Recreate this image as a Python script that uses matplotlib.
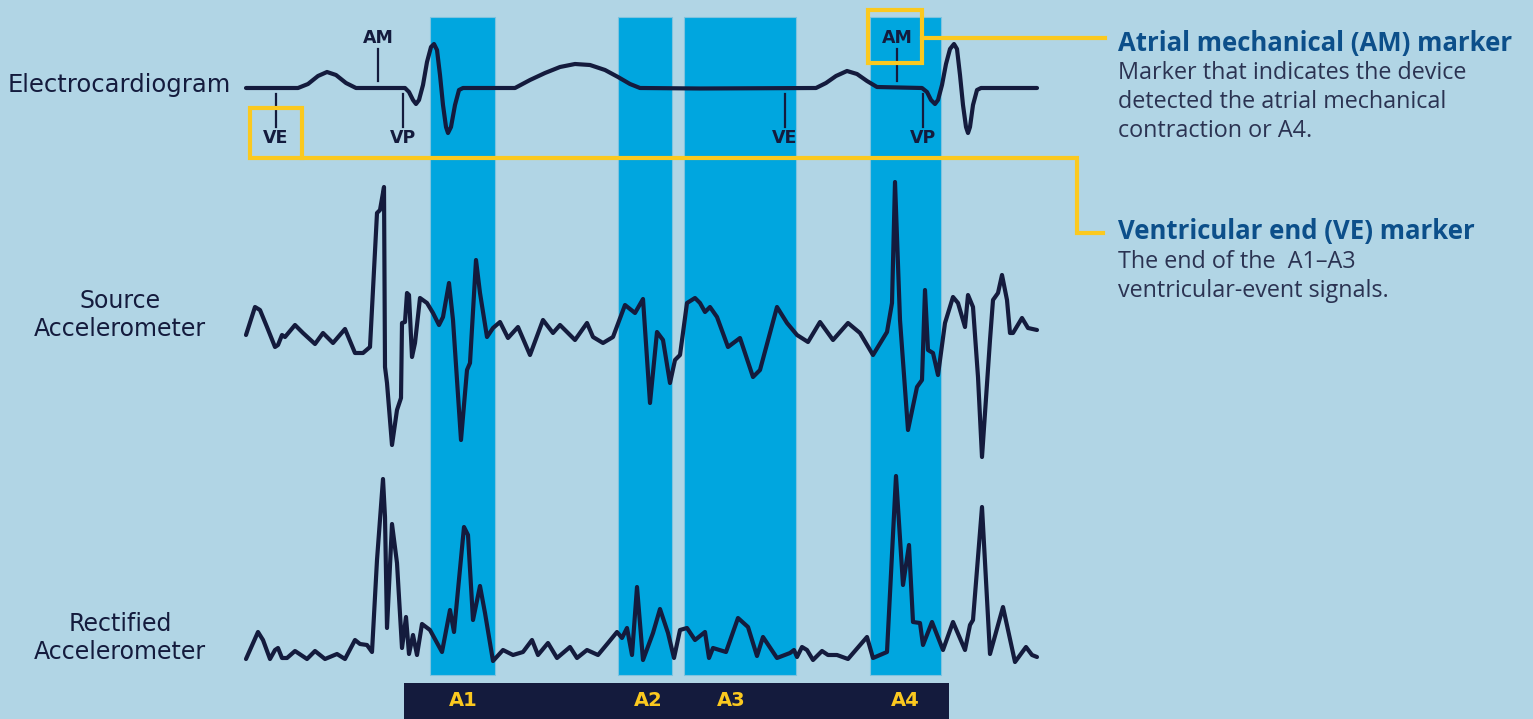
import matplotlib
matplotlib.use("Agg")
import matplotlib.pyplot as plt
from matplotlib.patches import Rectangle

# colours
bg = "#b1d5e5"
band_col = "#00a6df"
navy = "#141b3d"
yellow = "#fbc91f"
head_col = "#0c4f8a"

# event windows (time units = pixels along the strip)
event_names = ["A1", "A2", "A3", "A4"]
event_start = [430, 618, 684, 870]
event_end = [495, 672, 796, 941]
event_label_x = [463, 648, 731, 905]

# electrocardiogram: time / amplitude above baseline
ecg_t = [246, 298, 308, 318, 327, 336, 346, 356, 405, 409, 413, 416, 419, 423, 427, 431,
         434, 437, 440, 443, 446, 448, 451, 455, 459, 463, 515, 530, 545, 560, 575, 590,
         605, 618, 630, 640, 700, 816, 826, 836, 847, 857, 867, 877, 922, 927, 931, 935,
         938, 942, 946, 950, 954, 957, 960, 963, 966, 968, 970, 973, 977, 981, 1037]
ecg_v = [0, 0, 4, 12, 16, 13, 5, 0, 0, -4, -12, -16, -12, 3, 26, 41,
         44, 38, 13, -17, -39, -45, -39, -17, -2, 0, 0, 8, 15, 21, 24, 23,
         18, 11, 4, 0, -0.5, 0, 5, 12, 17, 14, 7, 1, 0, -4, -12, -16,
         -12, 3, 24, 39, 44, 39, 13, -17, -39, -45, -39, -17, -2, 0, 0]

# markers on the ECG strip
mark_names = ["VE", "AM", "VP", "VE", "AM", "VP"]
mark_t = [276, 378, 403, 785, 897, 923]
mark_up = [False, True, False, False, True, False]

# source accelerometer
src_t = [246, 255, 260, 267, 275, 278, 282, 285, 295, 303, 315, 323, 333, 345, 355, 363,
         370, 377, 380, 384, 385, 387, 392, 397, 401, 402, 405, 407, 409, 412, 415, 420,
         427, 433, 439, 443, 449, 453, 461, 467, 470, 476, 480, 487, 493, 500, 508, 518,
         530, 543, 553, 560, 575, 587, 593, 603, 613, 625, 635, 643, 650, 657, 663, 670,
         675, 680, 687, 695, 700, 705, 710, 717, 728, 740, 753, 760, 777, 787, 797, 808,
         820, 833, 848, 860, 873, 887, 892, 895, 900, 908, 917, 922, 925, 928, 933, 938,
         945, 953, 958, 965, 968, 973, 978, 982, 990, 993, 998, 1002, 1007, 1010, 1013, 1022,
         1028, 1037]
src_v = [-5, 23, 20, 3, -17, -15, -5, -7, 5, -3, -14, -3, -13, 1, -23, -23,
         -17, 117, 120, 143, -37, -53, -115, -80, -68, 7, 8, 37, 35, -27, -13, 32,
         27, 17, 5, 13, 47, 10, -110, -40, -33, 70, 37, -7, 2, 8, -8, 3,
         -25, 10, -3, 5, -10, 7, -7, -13, -7, 25, 17, 31, -73, -2, -10, -53,
         -30, -25, 27, 32, 27, 18, 23, 13, -17, -8, -47, -40, 23, 7, -5, -12,
         8, -10, 7, -3, -25, -2, 27, 148, 10, -100, -57, -50, 40, -20, -23, -45,
         7, 33, 27, 3, 35, 23, -47, -127, -10, 30, 37, 55, 30, -3, -3, 12,
         2, 0]

# rectified accelerometer
rec_t = [246, 258, 263, 270, 275, 278, 282, 287, 295, 307, 315, 325, 337, 345, 355, 360,
         367, 372, 377, 383, 385, 387, 392, 397, 402, 406, 409, 413, 417, 422, 430, 442,
         450, 454, 464, 468, 473, 480, 485, 493, 503, 513, 523, 532, 538, 548, 557, 570,
         577, 587, 598, 608, 617, 622, 627, 632, 637, 643, 653, 660, 668, 674, 680, 687,
         695, 705, 709, 713, 726, 738, 748, 757, 763, 777, 790, 794, 797, 802, 807, 813,
         822, 828, 837, 848, 867, 873, 887, 896, 903, 909, 913, 920, 923, 932, 943, 953,
         965, 970, 973, 982, 990, 1003, 1015, 1026, 1032, 1037]
rec_v = [0, 27, 19, 0, 9, 11, 1, 1, 8, 0, 8, 0, 5, 0, 19, 15,
         14, 7, 99, 180, 142, 31, 135, 96, 11, 42, 5, 24, 4, 35, 29, 7,
         49, 27, 132, 124, 39, 73, 46, -2, 9, 4, 7, 19, 4, 16, 1, 12,
         1, 9, 4, 16, 27, 21, 31, 4, 72, -1, 26, 50, 26, 1, 29, 31,
         19, 27, 1, 11, 7, 41, 32, 3, 22, 1, 6, 9, 2, 12, 9, -1,
         8, 4, 4, 0, 22, 1, 7, 183, 74, 114, 37, 36, 14, 37, 9, 37,
         9, 34, 39, 152, 5, 52, -3, 12, 4, 2]

# text
row_labels = ["Electrocardiogram", "Source\nAccelerometer", "Rectified\nAccelerometer"]
am_head = "Atrial mechanical (AM) marker"
am_body = ["Marker that indicates the device", "detected the atrial mechanical",
           "contraction or A4."]
ve_head = "Ventricular end (VE) marker"
ve_body = ["The end of the  A1\u2013A3", "ventricular-event signals."]

plt.rcParams["font.family"] = ["DejaVu Sans"]

fig = plt.figure(figsize=(15.33, 7.19), dpi=100, facecolor=bg)
ax = fig.add_axes([0, 0, 1, 1])
ax.set_xlim(0, 1533)
ax.set_ylim(719, 0)
ax.axis("off")
ax.set_facecolor(bg)

# highlighted event windows
for s, e in zip(event_start, event_end):
    ax.add_patch(Rectangle((s, 17), e - s, 658, facecolor=band_col,
                           edgecolor="#7fc3df", lw=0.8, zorder=1))

# event bar at the bottom
ax.add_patch(Rectangle((404, 683), 545, 40, facecolor=navy, edgecolor="none", zorder=2))
for name, x in zip(event_names, event_label_x):
    ax.text(x, 701, name, color=yellow, fontsize=14, fontweight="bold",
            ha="center", va="center", zorder=3)

# traces
ecg_base, src_base, rec_base = 88, 330, 659
kw = dict(color=navy, lw=3, solid_joinstyle="round", solid_capstyle="round", zorder=4)
ax.plot(ecg_t, [ecg_base - v for v in ecg_v], **kw)
ax.plot(src_t, [src_base - v for v in src_v], **kw)
ax.plot(rec_t, [rec_base - v for v in rec_v], **kw)

# ECG markers
for name, x, up in zip(mark_names, mark_t, mark_up):
    if up:
        ax.plot([x, x], [49, 81], color=navy, lw=1.6, zorder=4)
        ax.text(x, 38, name, fontsize=12.5, fontweight="bold", color=navy,
                ha="center", va="center", zorder=5)
    else:
        ax.plot([x, x], [94, 127], color=navy, lw=1.6, zorder=4)
        ax.text(x, 138, name, fontsize=12.5, fontweight="bold", color=navy,
                ha="center", va="center", zorder=5)

# yellow callouts
ylw = dict(color=yellow, lw=3, zorder=6, solid_joinstyle="miter")
ax.add_patch(Rectangle((868, 10), 54, 53, facecolor="none", edgecolor=yellow, lw=3, zorder=6))
ax.plot([922, 1105], [38, 38], **ylw)
ax.add_patch(Rectangle((250, 108), 52, 50, facecolor="none", edgecolor=yellow, lw=3, zorder=6))
ax.plot([302, 1077, 1077, 1103], [158, 158, 233, 233], **ylw)

# row labels
ax.text(231, 85, row_labels[0], fontsize=17.5, color=navy, ha="right", va="center")
ax.text(120, 315, row_labels[1], fontsize=17, color=navy, ha="center", va="center",
        linespacing=1.2)
ax.text(120, 638, row_labels[2], fontsize=17, color=navy, ha="center", va="center",
        linespacing=1.2)

# explanations on the right
ax.text(1118, 43, am_head, family="Open Sans", fontsize=18.5, fontweight="bold",
        color=head_col, ha="left", va="center")
for i, line in enumerate(am_body):
    ax.text(1118, 73 + 29 * i, line, family="Open Sans", fontsize=16.8, fontweight="normal",
            color="#2b3352", ha="left", va="center")
ax.text(1118, 232, ve_head, family="Open Sans", fontsize=18.5, fontweight="bold",
        color=head_col, ha="left", va="center")
for i, line in enumerate(ve_body):
    ax.text(1118, 262 + 29 * i, line, family="Open Sans", fontsize=16.8, fontweight="normal",
            color="#2b3352", ha="left", va="center")

plt.savefig("out.png", dpi=100, facecolor=bg)
